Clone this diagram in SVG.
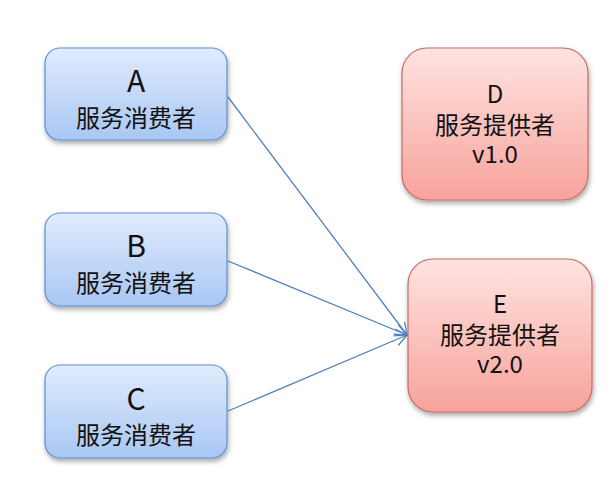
<svg xmlns="http://www.w3.org/2000/svg" width="616" height="504" viewBox="0 0 616 504">
<defs>
<linearGradient id="gb" x1="0" y1="0" x2="0" y2="1">
<stop offset="0" stop-color="#e1ebfc"/>
<stop offset="1" stop-color="#a8c7f4"/>
</linearGradient>
<linearGradient id="gr" x1="0" y1="0" x2="0" y2="1">
<stop offset="0" stop-color="#ffe3e1"/>
<stop offset="1" stop-color="#f7a39b"/>
</linearGradient>
<filter id="sh" x="-10%" y="-10%" width="125%" height="130%">
<feGaussianBlur in="SourceAlpha" stdDeviation="2.5"/>
<feOffset dx="1" dy="3" result="b"/>
<feComponentTransfer><feFuncA type="linear" slope="0.35"/></feComponentTransfer>
<feMerge><feMergeNode/><feMergeNode in="SourceGraphic"/></feMerge>
</filter>
<marker id="arr" markerWidth="14" markerHeight="14" viewBox="0 0 14 14" refX="13" refY="7" orient="auto" markerUnits="userSpaceOnUse">
<path d="M1,1 L13,7 L1,13" fill="none" stroke="#4f81bd" stroke-width="1.3"/>
</marker>
</defs>
<style>
.c{fill:url(#gb);stroke:#5f8fd0;stroke-width:1.2;filter:url(#sh)}
.p{fill:url(#gr);stroke:#c86a64;stroke-width:1.2;filter:url(#sh)}
text{font-family:"Noto Sans CJK SC","Microsoft YaHei",sans-serif;fill:#111111;text-anchor:middle}
.l{font-size:30px}
.s{font-size:24px}
.e{stroke:#4f81bd;stroke-width:1.3;fill:none}
</style>
<rect width="616" height="504" fill="#ffffff"/>
<g id="A">
<rect class="c" x="45" y="48" width="182" height="92" rx="15"/>
<text class="l" x="136" y="92">A</text>
<text class="s" x="136" y="127">服务消费者</text>
</g>
<g id="B">
<rect class="c" x="45" y="213" width="182" height="93" rx="15"/>
<text class="l" x="136" y="257">B</text>
<text class="s" x="136" y="292">服务消费者</text>
</g>
<g id="C">
<rect class="c" x="45" y="365" width="182" height="93" rx="15"/>
<text class="l" x="136" y="410">C</text>
<text class="s" x="136" y="444">服务消费者</text>
</g>
<g id="D">
<rect class="p" x="402" y="48" width="186" height="152" rx="25"/>
<text class="s" x="495" y="103">D</text>
<text class="s" x="495" y="134">服务提供者</text>
<text class="s" x="495" y="163">v1.0</text>
</g>
<g id="E">
<rect class="p" x="408" y="259" width="184" height="153" rx="25"/>
<text class="s" x="500" y="313">E</text>
<text class="s" x="500" y="344">服务提供者</text>
<text class="s" x="500" y="373">v2.0</text>
</g>
<g id="connectors">
<line class="e" x1="228" y1="97" x2="407" y2="335" marker-end="url(#arr)"/>
<line class="e" x1="228" y1="261" x2="407" y2="335" marker-end="url(#arr)"/>
<line class="e" x1="228" y1="411" x2="407" y2="335" marker-end="url(#arr)"/>
</g>
</svg>
